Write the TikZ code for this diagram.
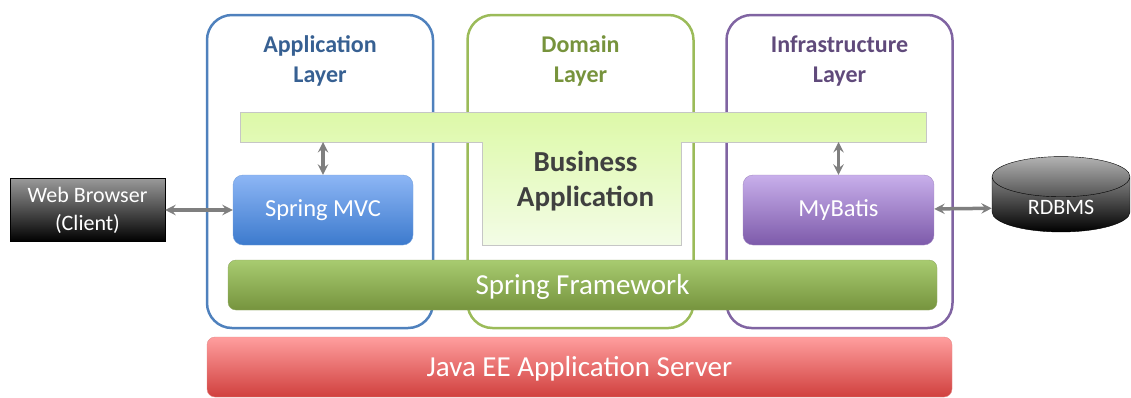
\documentclass[tikz,border=0pt]{standalone}
\usepackage{fontspec}
\setmainfont{Carlito}
\usetikzlibrary{shapes.geometric,positioning}

\definecolor{appblue}{RGB}{79,129,189}
\definecolor{apptext}{RGB}{55,96,146}
\definecolor{domgreen}{RGB}{155,187,89}
\definecolor{domtext}{RGB}{119,147,60}
\definecolor{infpurple}{RGB}{128,100,162}
\definecolor{inftext}{RGB}{96,74,123}
\definecolor{linkgray}{RGB}{127,127,127}
\definecolor{bizgreen}{RGB}{221,249,168}
\definecolor{bizlight}{RGB}{243,252,230}
\definecolor{mvctop}{RGB}{141,182,245}
\definecolor{mvcbottom}{RGB}{60,122,205}
\definecolor{mybtop}{RGB}{200,175,235}
\definecolor{mybbottom}{RGB}{125,90,170}
\definecolor{springtop}{RGB}{168,203,112}
\definecolor{springbottom}{RGB}{118,148,62}
\definecolor{javatop}{RGB}{255,158,158}
\definecolor{javabottom}{RGB}{208,64,62}

\begin{document}
\begin{tikzpicture}[x=1pt,y=-1pt,>=stealth,
    layer box/.style={draw,line width=2.5pt,rounded corners=25pt,minimum width=226pt,minimum height=313pt},
    layer title/.style={font=\fontsize{24}{30}\selectfont\bfseries,align=center},
    tech node/.style={rounded corners=10pt,minimum width=180pt,minimum height=70pt,text=white,font=\fontsize{24.5}{28}\selectfont},
    wide bar/.style={rounded corners=8pt,text=white,font=\fontsize{29}{32}\selectfont,text height=25pt,text depth=6pt},
    link/.style={<->,line width=3.5pt,draw=linkgray}]
    \useasboundingbox (0,0) rectangle (1131,397);

    % layers
    \node[layer box,draw=appblue] (applayer) at (320,171.5) {};
    \node[layer box,draw=domgreen] (domlayer) at (580.5,171.5) {};
    \node[layer box,draw=infpurple] (inflayer) at (839.5,171.5) {};
    \node[layer title,text=apptext] (apptitle) at (320,61) {Application\\Layer};
    \node[layer title,text=domtext] (domtitle) at (580.5,61) {Domain\\Layer};
    \node[layer title,text=inftext] (inftitle) at (839.5,61) {Infrastructure\\Layer};

    % business application (T shape)
    \draw[gray!45,top color=bizgreen,bottom color=bizlight]
        (240,112) -- (926,112) -- (926,142) -- (681,142) -- (681,245)
        -- (482,245) -- (482,142) -- (240,142) -- cycle;
    \node[font=\fontsize{29}{35}\selectfont\bfseries,text=black!75,align=center] (biz) at (585.5,181) {Business\\Application};
    \coordinate (bizleft) at (323,142);
    \coordinate (bizright) at (838.5,142);

    % frameworks
    \node[tech node,draw=mvcbottom!70,top color=mvctop,bottom color=mvcbottom] (mvc) at (323,210) {Spring MVC};
    \node[tech node,minimum width=191pt,draw=mybbottom!70,top color=mybtop,bottom color=mybbottom] (mybatis) at (838.5,210) {MyBatis};
    \node[wide bar,minimum width=709pt,minimum height=50pt,draw=springbottom!80,top color=springtop,bottom color=springbottom] (spring) at (582.5,285) {Spring Framework};
    \node[wide bar,minimum width=745pt,minimum height=60pt,draw=javabottom!60,top color=javatop,bottom color=javabottom] (javaee) at (579.5,367) {Java EE Application Server};

    % outside
    \node[draw=black,top color=gray!80,bottom color=black,text=white,minimum width=155pt,minimum height=63pt,align=center,font=\fontsize{22}{28}\selectfont] (browser) at (87.5,210) {Web Browser\\(Client)};
    \node[cylinder,shape border rotate=90,aspect=0.55,draw=black,top color=gray!60,bottom color=black,text=white,minimum width=138pt,minimum height=61pt,font=\fontsize{22}{26}\selectfont] (rdbms) at (1061,207.5) {RDBMS};

    \path
        (browser) edge[link] (mvc)
        (mybatis) edge[link] (rdbms)
        (mvc) edge[link] (bizleft)
        (mybatis) edge[link] (bizright)
    ;
\end{tikzpicture}
\end{document}
